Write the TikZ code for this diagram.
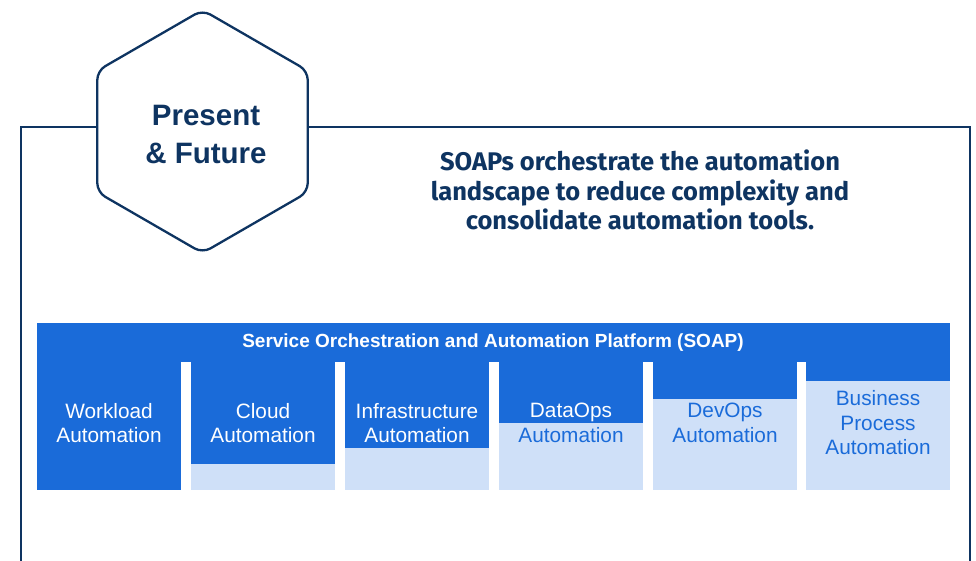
\documentclass[tikz,border=0pt]{standalone}
\usepackage{fontspec}
\setmainfont{Liberation Sans}
\newfontfamily\headfont{Fira Sans}
\definecolor{navy}{HTML}{0E3461}
\definecolor{soapblue}{HTML}{1A6BD9}
\definecolor{soaplight}{HTML}{CFE0F8}
\begin{document}
\begin{tikzpicture}[x=1pt,y=-1pt,
  frameline/.style={draw=navy,line width=2.2pt},
  hexshape/.style={draw=navy,line width=2.3pt,fill=white,rounded corners=9pt},
  hextext/.style={text=navy,font=\fontsize{29.5}{38}\selectfont\bfseries,align=center},
  headtext/.style={text=navy,font=\headfont\fontsize{25.5}{29.5}\selectfont\bfseries,align=center},
  bandtitle/.style={text=white,font=\fontsize{19}{21}\selectfont\bfseries},
  darkpart/.style={fill=soapblue,draw=none},
  lightpart/.style={fill=soaplight,draw=none},
  collabel/.style={text=soapblue,font=\fontsize{20.8}{24.5}\selectfont,align=center,inner sep=0pt}]
\useasboundingbox (0,0) rectangle (976,561);

% outer frame, interrupted by the hexagon
\coordinate (hexL) at (97.3,127);
\coordinate (hexR) at (307.7,127);
\coordinate (frameTL) at (21,127);
\coordinate (frameBL) at (21,561);
\coordinate (frameTR) at (970,127);
\coordinate (frameBR) at (970,561);
\draw[frameline] (hexL) -- (frameTL) -- (frameBL);
\draw[frameline] (hexR) -- (frameTR) -- (frameBR);

% hexagon badge
\draw[hexshape] (202.5,10) -- (307.7,70.75) -- (307.7,192.25) -- (202.5,253)
  -- (97.3,192.25) -- (97.3,70.75) -- cycle;
\node[hextext] (hex) at (206,134) {Present\\\& Future};

% headline
\node[headtext] (head) at (640,190) {SOAPs orchestrate the automation\\landscape to reduce complexity and\\consolidate automation tools.};

% platform band
\fill[darkpart] (37,323) rectangle (950,362);
\node[bandtitle] (band) at (493,343) {Service Orchestration and Automation Platform (SOAP)};

% columns: dark upper part and light lower part
\fill[darkpart] (37,362) rectangle (181,490);
\fill[darkpart] (191,362) rectangle (335,464);
\fill[lightpart] (191,464) rectangle (335,490);
\fill[darkpart] (345,362) rectangle (489,448);
\fill[lightpart] (345,448) rectangle (489,490);
\fill[darkpart] (499,362) rectangle (643,423);
\fill[lightpart] (499,423) rectangle (643,490);
\fill[darkpart] (653,362) rectangle (797,399);
\fill[lightpart] (653,399) rectangle (797,490);
\fill[darkpart] (806,362) rectangle (950,381);
\fill[lightpart] (806,381) rectangle (950,490);

\node[collabel,text=white] (wla) at (109,423) {Workload\\Automation};
\node[collabel,text=white] (cla) at (263,423) {Cloud\\Automation};
\node[collabel,text=white] (ina) at (417,423) {Infrastructure\\Automation};
\node[collabel] (doa) at (571,423) {\textcolor{white}{DataOps}\\Automation};
\node[collabel] (dva) at (725,423) {DevOps\\Automation};
\node[collabel] (bpa) at (878,423) {Business\\Process\\Automation};
\end{tikzpicture}
\end{document}
